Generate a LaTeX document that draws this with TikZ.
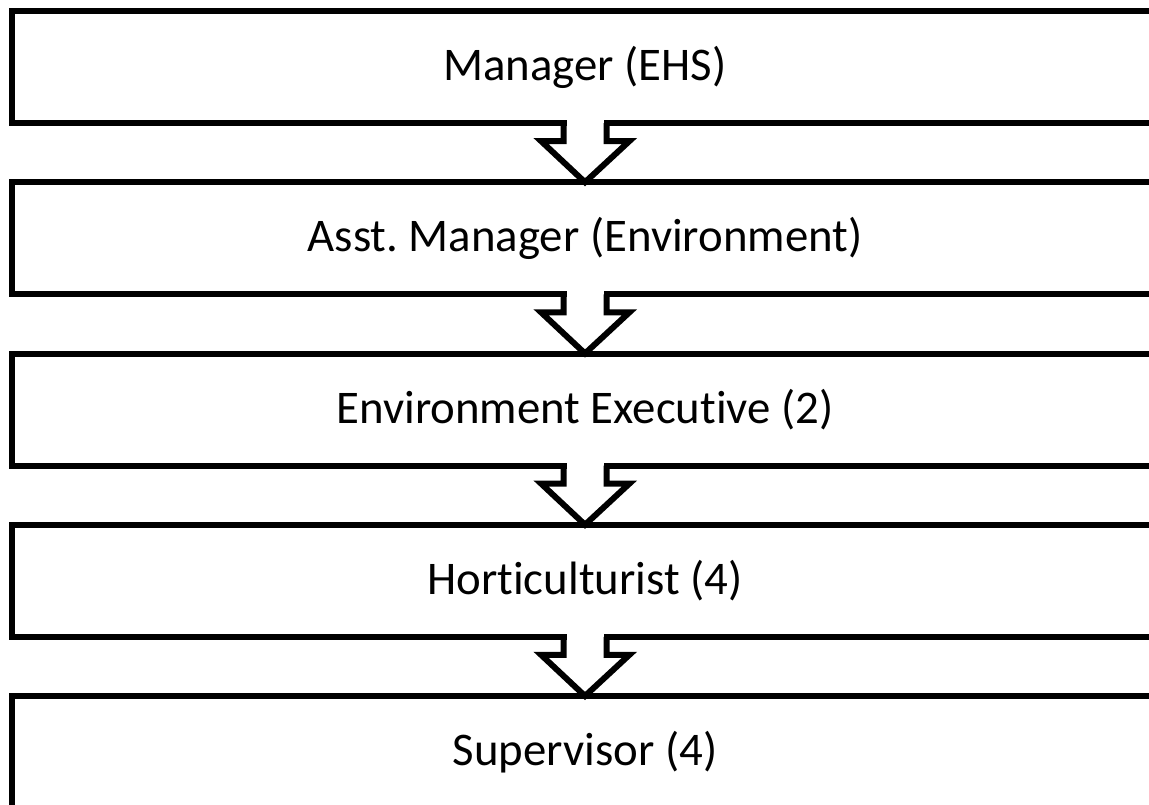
\documentclass[tikz,border=0pt]{standalone}
\usepackage{fontspec}
\setmainfont[Ligatures=NoCommon]{Carlito}
\usetikzlibrary{calc}
\frenchspacing
\begin{document}
\begin{tikzpicture}[x=1pt,y=-1pt,
  box/.style={draw=black, line width=6pt, fill=white, outer sep=0pt, inner sep=0pt,
    minimum width=1146pt, minimum height=112pt, font=\fontsize{46.8}{50}\selectfont},
  arr/.style={draw=black, line width=6pt, line join=miter}]
\useasboundingbox (0,0) rectangle (1149,804);
\clip (0,0) rectangle (1149,804);
\fill[white] (0,0) rectangle (1149,804);
\node[box] (b1) at (585,67) {Manager (EHS)};
\node[box] (b2) at (585,238.25) {Asst. Manager (Environment)};
\node[box] (b3) at (585,409.5) {Environment Executive (2)};
\node[box] (b4) at (585,580.75) {Horticulturist (4)};
\node[box] (b5) at (585,752) {Supervisor (4)};
\foreach \a/\b in {b1/b2,b2/b3,b3/b4,b4/b5}{
  \fill[white] ($(\a.south)+(-18.5,-3.5)$) rectangle ($(\a.south)+(18.5,3.5)$);
  \draw[arr] ($(\a.south)+(-21.5,0)$) -- ++(0,18) -- ++(-22.5,0) -- (\b.north)
    -- ($(\a.south)+(44.5,18)$) -- ++(-23,0) -- ++(0,-18);
}
\end{tikzpicture}
\end{document}
